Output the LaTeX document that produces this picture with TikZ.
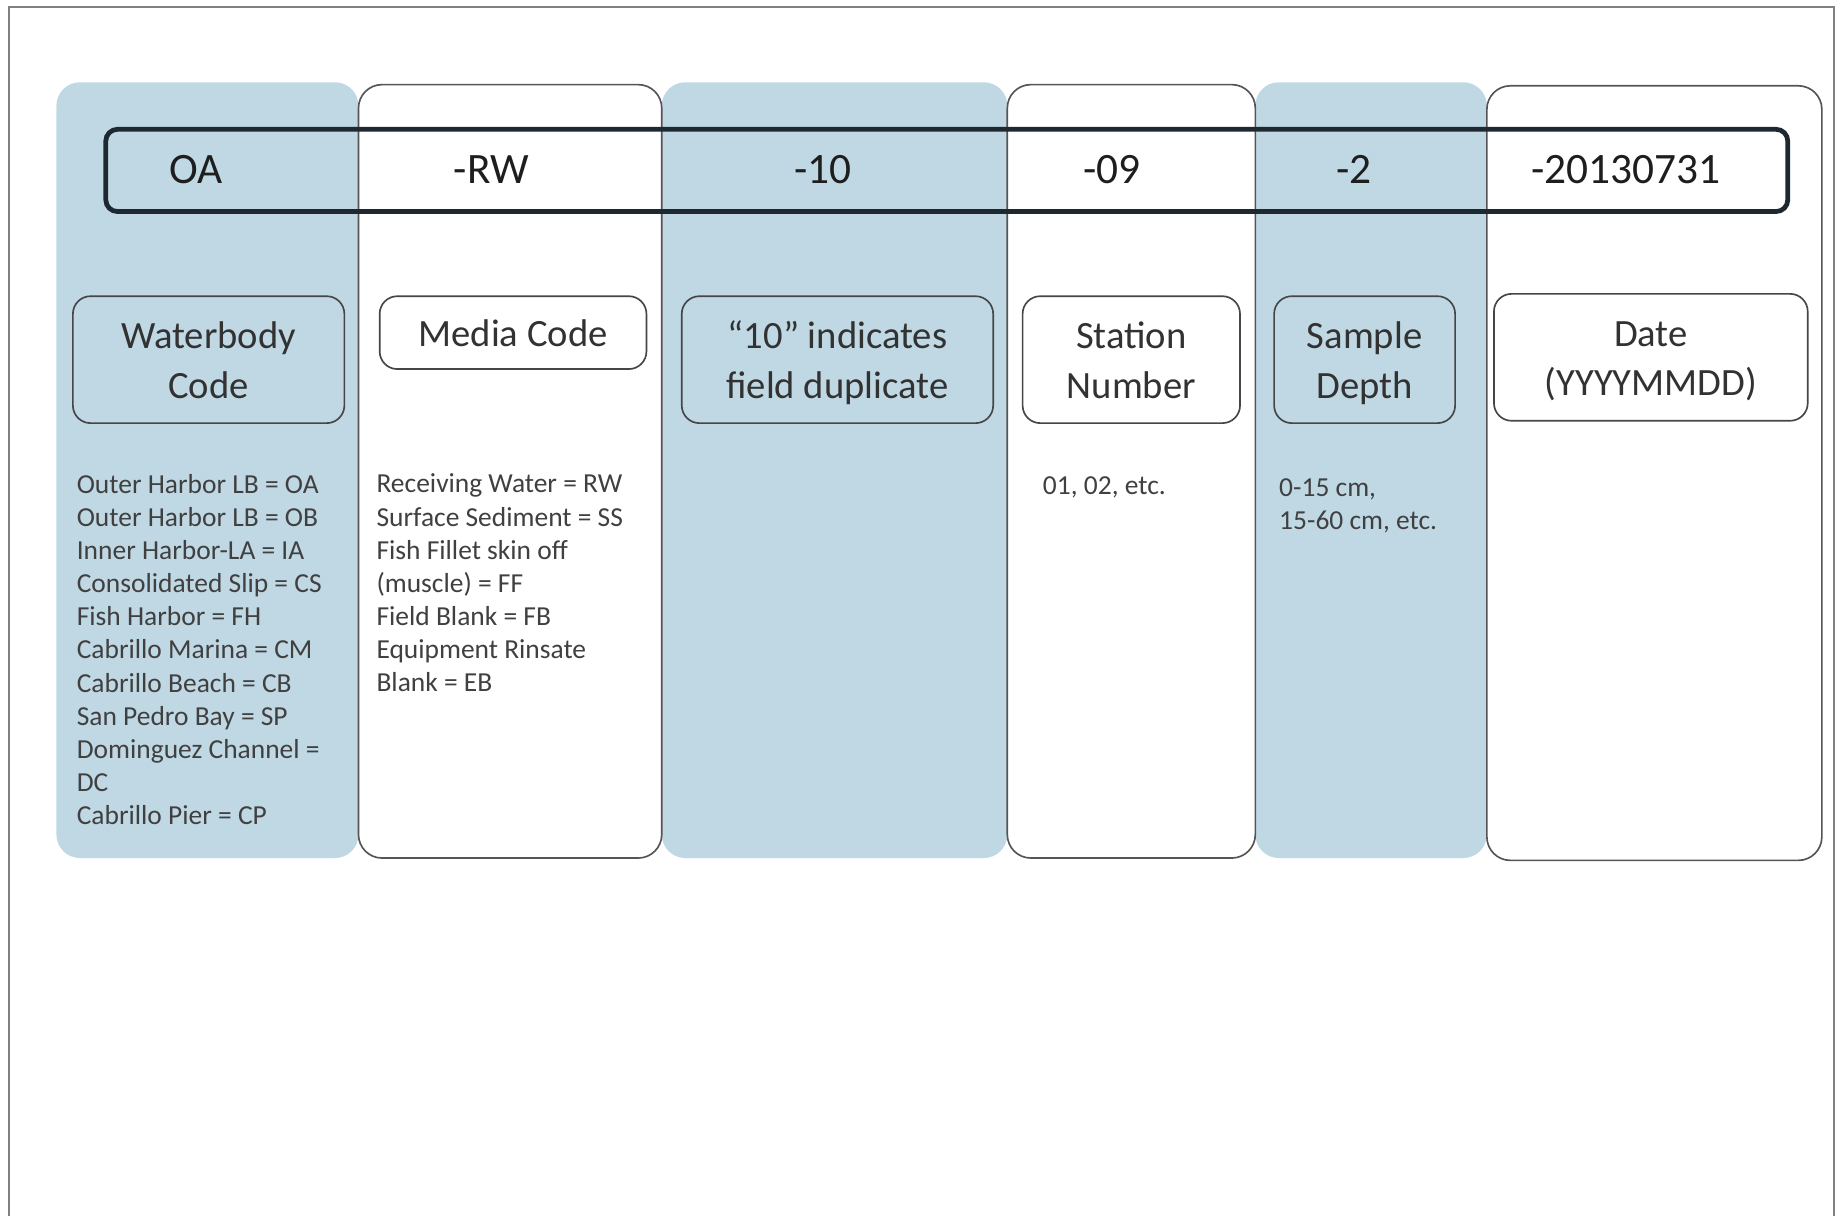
\documentclass[tikz,border=0pt]{standalone}
\usepackage{fontspec}
\setmainfont{Carlito}
\definecolor{colblue}{RGB}{192,216,228}
\definecolor{colline}{RGB}{85,85,85}
\definecolor{boxline}{RGB}{70,70,70}
\definecolor{bandline}{RGB}{30,40,48}
\definecolor{codetext}{RGB}{30,30,30}
\definecolor{labeltext}{RGB}{50,50,50}
\definecolor{bodytext}{RGB}{64,64,64}
\definecolor{framegray}{RGB}{128,128,128}
\newcommand{\lblstrut}{\rule[-5.2pt]{0pt}{23.9pt}}
\begin{document}
\begin{tikzpicture}[x=0.02cm,y=-0.02cm,
  blueCol/.style={fill=colblue, draw=none, rounded corners=0.4cm},
  whiteCol/.style={fill=white, draw=colline, line width=0.8pt, rounded corners=0.4cm},
  band/.style={draw=bandline, line width=2.3pt, rounded corners=0.2cm},
  codeText/.style={font=\fontsize{21}{25}\selectfont, text=codetext, anchor=base, inner sep=0pt},
  labelBox/.style={rounded corners=0.3cm, draw=boxline, line width=0.8pt, align=center, inner sep=0pt, font=\fontsize{18.7}{23.9}\selectfont, text=labeltext},
  bodyText/.style={anchor=north west, inner sep=0pt, align=left, font=\fontsize{13.3}{16.05}\selectfont, text=bodytext}
]
\useasboundingbox (0,0) rectangle (1568,1034);
% outer frame
\draw[framegray, line width=1pt] (8,1060) -- (8,6) -- (1560,6) -- (1560,1060);
% columns
\path[blueCol] (48,70) rectangle (305,730);
\path[blueCol] (563,70) rectangle (857,730);
\path[blueCol] (1068,70) rectangle (1265,730);
\path[whiteCol] (305,72) rectangle (563,730);
\path[whiteCol] (857,72) rectangle (1068,730);
\path[whiteCol] (1265,73) rectangle (1550,732);
% code band
\draw[band] (90,110) rectangle (1521,180);
\node[codeText] (cOA) at (167,156) {OA};
\node[codeText] (cRW) at (418,156) {-RW};
\node[codeText] (c10) at (700,156) {-10};
\node[codeText] (c09) at (946,156) {-09};
\node[codeText] (c2) at (1152,156) {-2};
\node[codeText] (cDate) at (1383,156) {-20130731};
% label boxes
\node[labelBox, fill=colblue, minimum width=4.62cm, minimum height=2.16cm] (wb) at (177.5,306) {\lblstrut Waterbody\\\lblstrut Code};
\node[labelBox, fill=white, minimum width=4.54cm, minimum height=1.24cm] (mc) at (436.5,283) {\lblstrut Media Code};
\node[labelBox, fill=colblue, minimum width=5.30cm, minimum height=2.16cm] (fd) at (712.5,306) {\lblstrut “10” indicates\\\lblstrut field duplicate};
\node[labelBox, fill=white, minimum width=3.70cm, minimum height=2.16cm] (sn) at (962.5,306) {\lblstrut Station\\\lblstrut Number};
\node[labelBox, fill=colblue, minimum width=3.08cm, minimum height=2.16cm] (sd) at (1161,306) {\lblstrut Sample\\\lblstrut Depth};
\node[labelBox, fill=white, minimum width=5.34cm, minimum height=2.16cm] (dt) at (1404.5,304) {\lblstrut Date\\\lblstrut (YYYYMMDD)};
% body texts
\node[bodyText] (wbList) at (65,403) {Outer Harbor LB = OA\\Outer Harbor LB = OB\\Inner Harbor-LA = IA\\Consolidated Slip = CS\\Fish Harbor = FH\\Cabrillo Marina = CM\\Cabrillo Beach = CB\\San Pedro Bay = SP\\Dominguez Channel =\\DC\\Cabrillo Pier = CP};
\node[bodyText] (mcList) at (320,403) {Receiving Water = RW\\Surface Sediment = SS\\Fish Fillet skin off\\(muscle) = FF\\Field Blank = FB\\Equipment Rinsate\\Blank = EB};
\node[bodyText] (snList) at (887,405) {01, 02, etc.};
\node[bodyText] (sdList) at (1088,407) {0-15 cm,\\15-60 cm, etc.};
\end{tikzpicture}
\end{document}
